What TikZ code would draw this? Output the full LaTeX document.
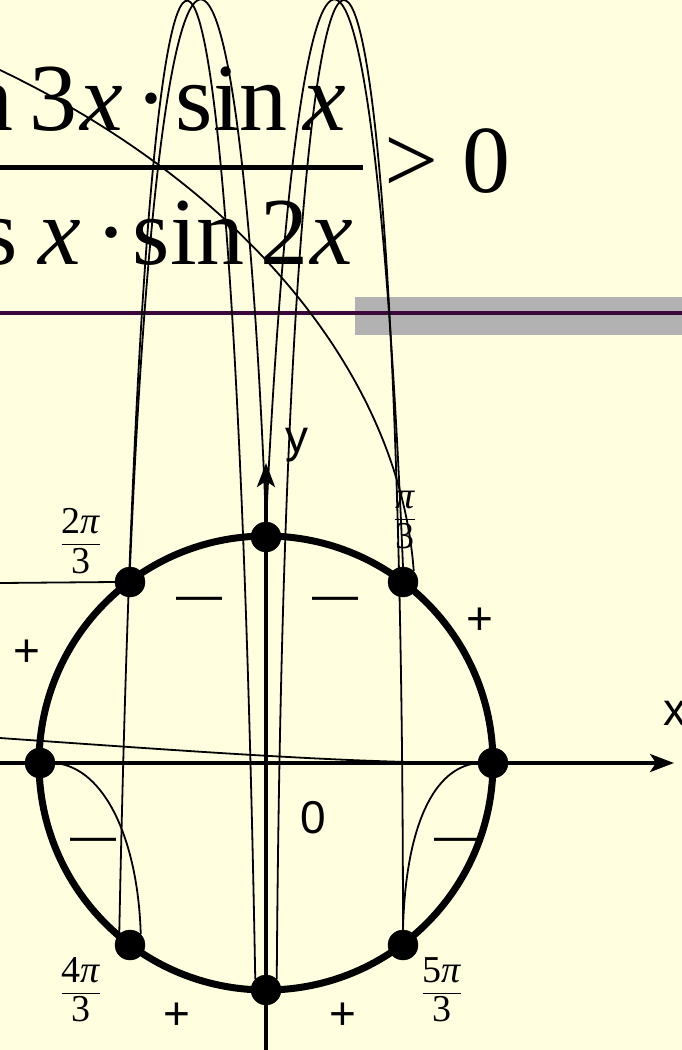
\documentclass[tikz,border=0pt]{standalone}
\usepackage{amsmath}
\usepackage{fontspec}
\setmainfont{Liberation Serif}
\newfontfamily\arialfont{Liberation Sans}
\usepackage{tikz}
\usetikzlibrary{arrows.meta}
\definecolor{bgyellow}{RGB}{255,255,224}
\definecolor{barpurple}{RGB}{60,8,60}
\definecolor{bargray}{RGB}{178,178,178}

\begin{document}
\begin{tikzpicture}[%
x=1pt, y=-1pt, >={Stealth[length=24pt,width=18pt,inset=6pt]},
dot/.style={draw, shape=circle, fill=black, minimum size=30pt, inner sep=0pt},
snake/.style={line width=1.8pt},
axis/.style={line width=3.5pt},
sign/.style={font=\arialfont\fontsize{46}{50}\selectfont, inner sep=0pt, anchor=base},
frac/.style={font=\fontsize{38}{44}\selectfont, inner sep=0pt},
big/.style={font=\fontsize{96}{110}\selectfont, inner sep=0pt, anchor=base west}
]
\useasboundingbox (0,0) rectangle (682,1050);
\fill[bgyellow] (0,0) rectangle (682,1050);
\fill[bargray] (355,297) rectangle (682,335);
\draw[barpurple, line width=4pt] (0,313) -- (682,313);
\node[big] (num) at (-99,130) {sin\hspace{16pt}3\hspace{3pt}\textit{x}\hspace{13pt}·\hspace{8pt}sin\hspace{16pt}\textit{x}};
\node[big] (den) at (-110,264) {cos\hspace{20pt}\textit{x}\hspace{15pt}·\hspace{5pt}sin\hspace{16pt}2\hspace{2pt}\textit{x}};
\draw[line width=5pt] (-20,167) -- (363,167);
\node[big] (gt) at (384,192) {> 0};
\coordinate (xl) at (0,763);
\coordinate (xr) at (674,763);
\coordinate (yb) at (266,1050);
\coordinate (yt) at (266,463);
\draw[axis,->] (xl) -- (xr);
\draw[axis,->] (yb) -- (yt);
\draw[line width=7pt] (266,763) circle[radius=227pt];
\node[dot] (p0) at (493,763) {};
\node[dot] (p60) at (403,582) {};
\node[dot] (p90) at (266,537) {};
\node[dot] (p120) at (130,582) {};
\node[dot] (p180) at (40,763) {};
\node[dot] (p240) at (130,945) {};
\node[dot] (p270) at (266,990) {};
\node[dot] (p300) at (403,945) {};
\coordinate (a0) at (0,70);
\coordinate (h0) at (0,583);
\coordinate (l0) at (0,738);
\draw[snake] (a0) .. controls (250,190) and (400,380) .. (p60.north east);
\draw[snake] (h0) -- (p120.west);
\draw[snake] (l0) .. controls (200,752) and (350,763) .. (p0.west);
\draw[snake] (p180.east) .. controls (105,768) and (138,840) .. (p240.north east);
\draw[snake] (p0.west) .. controls (428,768) and (405,840) .. (p300.north);
\draw[snake] (p120.north) .. controls (162,-182) and (238,-182) .. (p90.north);
\draw[snake] (p240.north west) .. controls (144,-318) and (232,-318) .. (p270.north west);
\draw[snake] (p90.north) .. controls (300,-182) and (372,-182) .. (p60.north);
\draw[snake] (p270.north east) .. controls (286,-318) and (402,-318) .. (p300.north);
\node[sign] (ly) at (297,452) {y};
\node[sign] (lx) at (675,725) {x};
\node[sign] (lo) at (313,833) {0};
\node[sign] (s1) at (27,666) {+};
\node[sign] (s2) at (480,634) {+};
\node[sign] (s3) at (177,1029) {+};
\node[sign] (s4) at (343,1029) {+};
\node[sign] (m1) at (199,610) {—};
\node[sign] (m2) at (335,610) {—};
\node[sign] (m3) at (93,851) {—};
\node[sign] (m4) at (457,851) {—};
\node[frac] (f60) at (405,520) {$\dfrac{\text{\textit{π}}}{\text{3}}$};
\node[frac] (f120) at (81,541) {$\dfrac{\text{2\textit{π}}}{\text{3}}$};
\node[frac] (f240) at (81,990) {$\dfrac{\text{4\textit{π}}}{\text{3}}$};
\node[frac] (f300) at (442,990) {$\dfrac{\text{5\textit{π}}}{\text{3}}$};
\end{tikzpicture}
\end{document}
